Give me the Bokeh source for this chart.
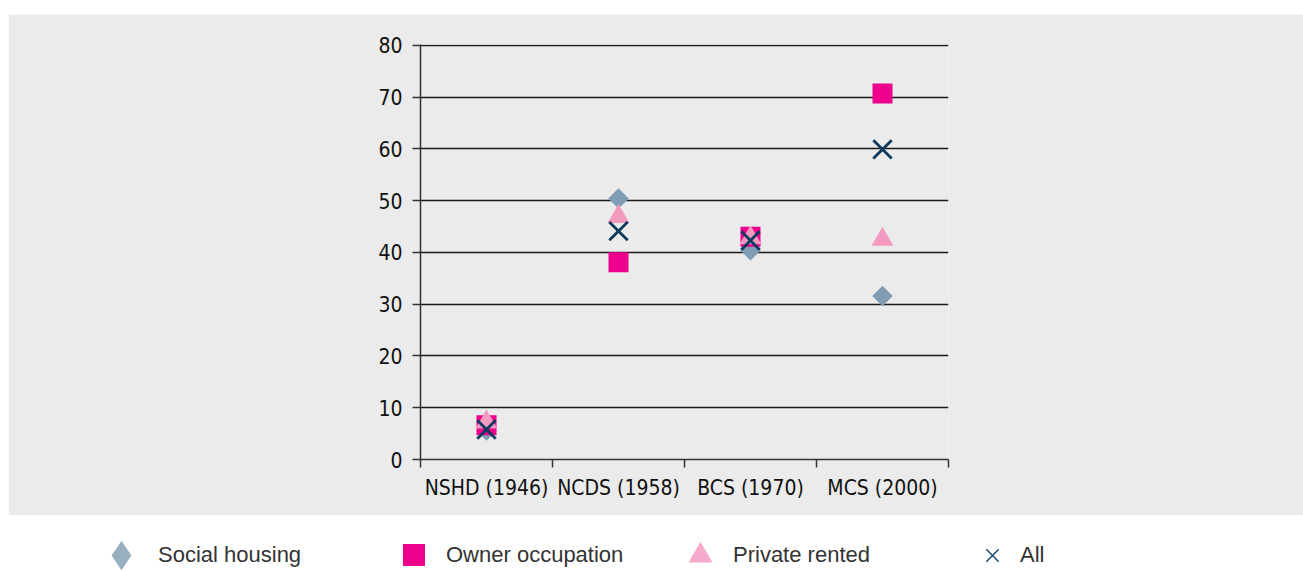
import math
import numpy as np
from bokeh.plotting import figure
from bokeh.models import (ColumnDataSource, Range1d, FixedTicker, Legend, LegendItem)
from bokeh.layouts import column
from bokeh.embed import file_html
from bokeh.resources import INLINE

# ---- data ----
cohorts = ["NSHD (1946)", "NCDS (1958)", "BCS (1970)", "MCS (2000)"]
social_housing = [5.6, 50.4, 40.4, 31.6]
owner_occupation = [6.6, 38.1, 43.0, 70.7]
private_rented = [7.2, 46.9, 42.8, 42.5]
all_tenures = [5.8, 44.1, 42.3, 59.9]
y_ticks = [0, 10, 20, 30, 40, 50, 60, 70, 80]

xs = [i + 0.5 for i in range(len(cohorts))]
src = ColumnDataSource(dict(x=xs, social=social_housing, owner=owner_occupation,
                            private=private_rented, all=all_tenures))

BG = "#ebebeb"
AX_FONT = "DejaVu Sans Condensed"

p = figure(width=1295, height=501, output_backend="svg", toolbar_location=None,
           x_range=Range1d(0, len(cohorts)), y_range=Range1d(0, 80.15),
           background_fill_color=BG, border_fill_color=BG, outline_line_color=None,
           min_border_left=412, min_border_right=355, min_border_top=30, min_border_bottom=56)
p.frame_align = False

# y axis
p.yaxis.ticker = FixedTicker(ticks=y_ticks)
p.yaxis.major_tick_out = 8
p.yaxis.major_tick_in = 0
p.yaxis.minor_tick_line_color = None
p.yaxis.axis_line_color = "#333333"
p.yaxis.axis_line_width = 1.5
p.yaxis.major_tick_line_color = "#333333"
p.yaxis.major_tick_line_width = 1.5
p.yaxis.major_label_text_font = AX_FONT
p.yaxis.major_label_text_font_size = "21px"
p.yaxis.major_label_text_color = "#111111"
p.yaxis.major_label_standoff = 10

# x axis: labels at category centres, ticks at boundaries
p.xaxis.ticker = FixedTicker(ticks=xs, minor_ticks=list(range(len(cohorts) + 1)))
p.xaxis.major_label_overrides = {x: c for x, c in zip(xs, cohorts)}
p.xaxis.major_tick_line_color = None
p.xaxis.major_tick_out = 8
p.xaxis.major_tick_in = 0
p.xaxis.minor_tick_out = 8
p.xaxis.minor_tick_in = 0
p.xaxis.minor_tick_line_color = "#333333"
p.xaxis.minor_tick_line_width = 1.5
p.xaxis.axis_line_color = "#333333"
p.xaxis.axis_line_width = 1.5
p.xaxis.major_label_text_font = AX_FONT
p.xaxis.major_label_text_font_size = "21px"
p.xaxis.major_label_text_color = "#111111"
p.xaxis.major_label_standoff = 8

p.xgrid.grid_line_color = None
p.ygrid.ticker = FixedTicker(ticks=y_ticks)
p.ygrid.grid_line_color = "#1a1a1a"
p.ygrid.grid_line_width = 1.3

# markers
p.scatter("x", "social", source=src, marker="square", size=14.5, angle=math.pi / 4,
          fill_color="#7f9cb3", line_color=None)
p.scatter("x", "owner", source=src, marker="square", size=20,
          fill_color="#ec008c", line_color=None)
p.scatter("x", "private", source=src, marker="triangle", size=22,
          fill_color="#f49ac1", line_color=None)
p.scatter("x", "all", source=src, marker="x", size=26,
          line_color="#0b3a5e", line_width=2.8)

# ---- legend strip ----
lg = figure(width=1295, height=56, output_backend="svg", toolbar_location=None,
            x_range=Range1d(0, 1), y_range=Range1d(0, 1),
            x_axis_location=None, y_axis_location=None,
            background_fill_color="white", border_fill_color="white",
            outline_line_color=None, min_border=0)
lg.frame_align = False
lg.grid.visible = False

# (label, style, glyph box, left position, label standoff)
legend_specs = [
    ("Social housing", dict(marker="diamond", fill_color="#98afc0", line_color=None), 74, 76, 0),
    ("Owner occupation", dict(marker="square", fill_color="#ec008c", line_color=None), 55, 378, 5),
    ("Private rented", dict(marker="triangle", fill_color="#f5a9cb", line_color=None), 60, 662, 3),
    ("All", dict(marker="x", line_color="#1a4a70", line_width=1.5), 44, 962, 6),
]
center_y = 16
for label, style, box, lx, standoff in legend_specs:
    # legend proxy: a single undrawable (NaN) point, only its swatch is shown
    r = lg.scatter(x=np.array([np.nan]), y=np.array([np.nan]), **style)
    leg = Legend(items=[LegendItem(label=label, renderers=[r])],
                 location=(lx, center_y - box // 2),
                 glyph_width=box, glyph_height=box, label_standoff=standoff,
                 margin=0, padding=0, border_line_color=None, background_fill_alpha=0,
                 label_text_font="Liberation Sans", label_text_font_size="22px",
                 label_text_color="#333333")
    lg.add_layout(leg)

layout = column(p, lg, margin=(14, 0, 0, 8))

open("out.html", "w").write(file_html(layout, INLINE))
